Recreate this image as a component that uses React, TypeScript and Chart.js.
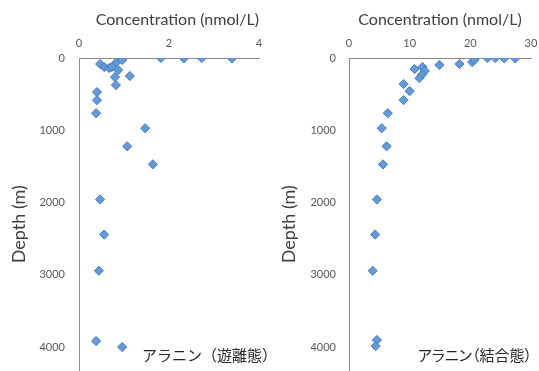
import React, { useEffect, useRef } from "react";
import { Chart, registerables } from "chart.js";

Chart.register(...registerables);

// Free (遊離態) alanine: concentration (nmol/L) and depth (m)
const freeConc = [0.47, 0.56, 0.67, 0.73, 0.84, 0.96, 0.87, 0.8, 0.82, 1.13, 1.82, 2.33, 2.73, 3.4, 0.4, 0.4, 0.38, 1.47, 1.07, 1.64, 0.47, 0.56, 0.44, 0.38, 0.96];
const freeDepth = [83, 125, 139, 125, 56, 28, 167, 264, 375, 250, 0, 5, 0, 5, 472, 583, 764, 972, 1222, 1472, 1958, 2444, 2944, 3917, 4000];

// Bound (結合態) alanine: concentration (nmol/L) and depth (m)
const boundConc = [10.8, 12.1, 12.5, 12.0, 11.6, 14.9, 18.2, 20.3, 20.7, 22.8, 24.1, 25.6, 27.4, 9.0, 10.0, 9.0, 6.4, 5.4, 6.2, 5.6, 4.6, 4.3, 3.9, 4.6, 4.4];
const boundDepth = [153, 125, 180, 236, 278, 97, 83, 56, 28, 0, 0, 5, 5, 361, 458, 583, 764, 972, 1222, 1472, 1958, 2444, 2944, 3903, 3986];

const freeXTicks = [0, 2, 4];
const boundXTicks = [0, 10, 20, 30];
const depthTicks = [0, 1000, 2000, 3000, 4000];
const depthMax = 4600;

const xTitle = "Concentration (nmol/L)";
const yTitle = "Depth (m)";
const freeLabel = "アラニン（遊離態）";
const boundLabel = "アラニン（結合態）";

const TICK_COLOR = "#595959";
const TITLE_COLOR = "#404040";
const AXIS_COLOR = "#8c8c8c";

function buildConfig(
  conc: number[],
  depth: number[],
  xTicks: number[],
  padRight: number,
  titleAlign: "center" | "end",
  yTickPad: number
): any {
  const pts = conc.map((c, i) => ({ x: c, y: depth[i] }));
  return {
    type: "scatter",
    data: {
      datasets: [
        {
          data: pts,
          pointStyle: "rectRot",
          pointRadius: 4.6,
          backgroundColor: "#6399D9",
          borderColor: "#4A7EBB",
          borderWidth: 1,
          showLine: false,
        },
      ],
    },
    options: {
      responsive: false,
      animation: false,
      devicePixelRatio: 1,
      layout: { padding: { top: 0, left: 0, right: padRight, bottom: 1 } },
      plugins: { legend: { display: false }, tooltip: { enabled: false } },
      scales: {
        x: {
          type: "linear",
          position: "top",
          min: xTicks[0],
          max: xTicks[xTicks.length - 1],
          afterBuildTicks: (s: any) => {
            s.ticks = xTicks.map((v) => ({ value: v }));
          },
          ticks: {
            color: TICK_COLOR,
            font: { family: "Lato", size: 11 },
            padding: 8,
            callback: (v: any) => String(v),
          },
          grid: { display: false, drawTicks: false },
          border: { display: true, color: AXIS_COLOR, width: 1 },
          title: {
            display: true,
            text: xTitle,
            align: titleAlign,
            color: TITLE_COLOR,
            font: { family: "Lato", size: 16 },
            padding: { top: 10, bottom: 0 },
          },
          afterFit: (s: any) => {
            s.height = 58;
            s.paddingLeft = 0;
            s.paddingRight = 0;
          },
        },
        y: {
          type: "linear",
          position: "left",
          reverse: true,
          min: 0,
          max: depthMax,
          afterBuildTicks: (s: any) => {
            s.ticks = depthTicks.map((v) => ({ value: v }));
          },
          ticks: {
            color: TICK_COLOR,
            font: { family: "Lato", size: 11 },
            padding: yTickPad,
            callback: (v: any) => String(v),
          },
          grid: { display: false, drawTicks: false },
          border: { display: true, color: AXIS_COLOR, width: 1 },
          title: {
            display: true,
            text: yTitle,
            color: TITLE_COLOR,
            font: { family: "Lato", size: 18 },
            padding: { top: 8, bottom: 0 },
          },
          afterFit: (s: any) => {
            s.width = 79;
            s.paddingTop = 0;
            s.paddingBottom = 0;
          },
        },
      },
    },
  };
}

export default function App() {
  const leftRef = useRef<HTMLCanvasElement | null>(null);
  const rightRef = useRef<HTMLCanvasElement | null>(null);

  useEffect(() => {
    const c1 = new Chart(
      leftRef.current as HTMLCanvasElement,
      buildConfig(freeConc, freeDepth, freeXTicks, 11, "end", 14)
    );
    const c2 = new Chart(
      rightRef.current as HTMLCanvasElement,
      buildConfig(boundConc, boundDepth, boundXTicks, 8, "center", 13)
    );
    return () => {
      c1.destroy();
      c2.destroy();
    };
  }, []);

  const labelStyle: React.CSSProperties = {
    position: "absolute",
    top: 344,
    fontFamily: '"Noto Sans CJK JP", sans-serif',
    fontSize: 15,
    lineHeight: "22px",
    color: "#262626",
    whiteSpace: "nowrap",
  };

  return (
    <div
      style={{
        position: "fixed",
        left: 0,
        top: 0,
        width: 539,
        height: 371,
        overflow: "hidden",
        background: "#ffffff",
      }}
    >
      <canvas
        ref={leftRef}
        width={270}
        height={396}
        style={{ position: "absolute", left: 0, top: 0, width: 270, height: 396 }}
      />
      <canvas
        ref={rightRef}
        width={269}
        height={396}
        style={{ position: "absolute", left: 270, top: 0, width: 269, height: 396 }}
      />
      <div style={{ ...labelStyle, left: 142 }}>{freeLabel}</div>
      <div style={{ ...labelStyle, right: 7, fontFeatureSettings: '"palt"' }}>{boundLabel}</div>
    </div>
  );
}
